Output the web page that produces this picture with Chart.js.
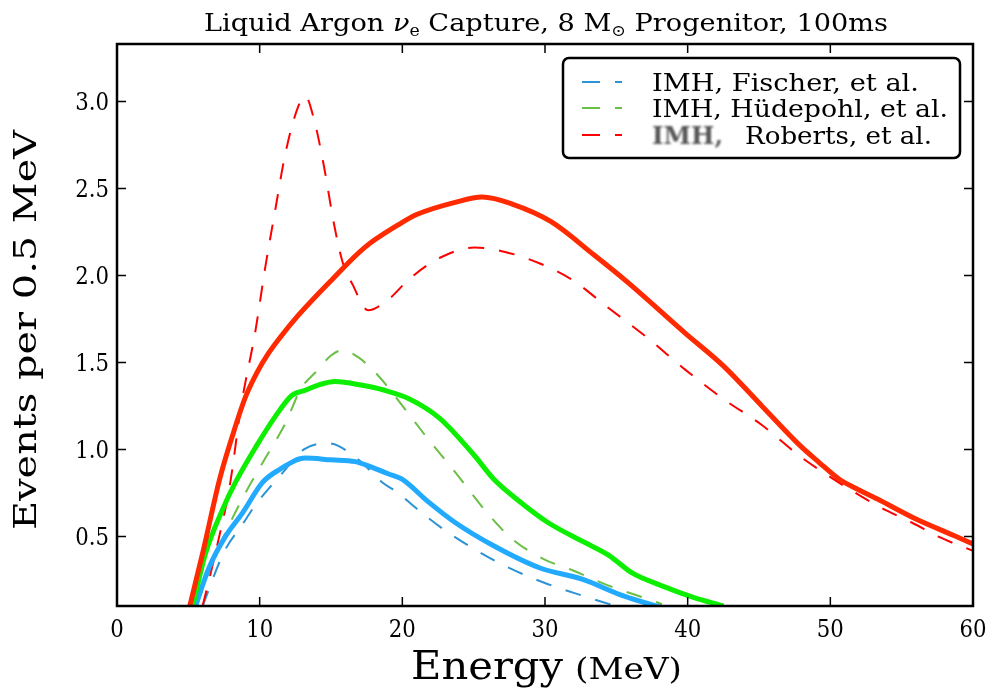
<!DOCTYPE html>
<html>
<head>
<meta charset="utf-8">
<script src="https://cdn.jsdelivr.net/npm/chart.js@4/dist/chart.umd.min.js"></script>
<style>
  body { margin: 0; background: #fff; }
  canvas { display: block; }
</style>
</head>
<body>
<canvas id="chart" width="994" height="689"></canvas>
<script>
// tick labels
const xTicks = [0, 10, 20, 30, 40, 50, 60];
const yTicks = [0.5, 1.0, 1.5, 2.0, 2.5, 3.0];

// solid curves (energy in MeV, events per 0.5 MeV)
const redSolidE = [5.1, 6.05, 7.2, 8.1, 9.0, 9.8, 10.6, 11.5, 12.7, 15.0, 17.35, 19.7, 21.0, 23.7, 25.6, 27.7, 30.4, 33.4, 35.8, 39.8, 42.5, 45.2, 47.9, 49.2, 50.6, 51.7, 53.3, 56.0, 58.7, 60.0];
const redSolidV = [0.10, 0.42, 0.83, 1.08, 1.30, 1.44, 1.55, 1.65, 1.77, 1.97, 2.16, 2.29, 2.35, 2.42, 2.45, 2.41, 2.31, 2.12, 1.96, 1.67, 1.48, 1.25, 1.02, 0.926, 0.83, 0.78, 0.715, 0.60, 0.504, 0.456];

const greenSolidE = [5.3, 6.2, 7.4, 8.3, 9.7, 11.1, 12.25, 13.2, 14.1, 15.3, 17.1, 18.75, 20.5, 22.6, 25.05, 26.4, 28.0, 30.2, 32.8, 34.5, 36.1, 38.2, 40.4, 42.5];
const greenSolidV = [0.10, 0.40, 0.655, 0.81, 1.01, 1.19, 1.31, 1.34, 1.37, 1.39, 1.37, 1.34, 1.29, 1.18, 0.965, 0.83, 0.715, 0.58, 0.465, 0.39, 0.29, 0.216, 0.15, 0.10];

const blueSolidE = [5.5, 6.45, 7.6, 8.8, 10.2, 11.3, 13.2, 15.0, 16.7, 17.8, 19.0, 19.95, 21.8, 23.7, 26.4, 29.6, 32.6, 35.5, 38.2];
const blueSolidV = [0.10, 0.32, 0.50, 0.635, 0.81, 0.88, 0.95, 0.94, 0.93, 0.90, 0.86, 0.83, 0.70, 0.58, 0.446, 0.32, 0.254, 0.158, 0.09];

// dashed curves (IMH)
const redDashE = [6.0, 7.0, 7.9, 8.7, 9.7, 10.4, 11.1, 11.8, 12.7, 13.2, 13.8, 14.5, 15.2, 15.8, 16.5, 17.6, 19.0, 20.5, 22.6, 25.05, 27.2, 29.6, 31.8, 34.5, 37.2, 39.8, 42.5, 45.2, 47.8, 49.5, 51.5, 53.5, 55.7, 57.7, 60.0];
const redDashV = [0.10, 0.44, 0.79, 1.25, 1.68, 2.05, 2.38, 2.70, 2.97, 3.03, 2.90, 2.63, 2.30, 2.08, 1.95, 1.80, 1.86, 1.98, 2.10, 2.16, 2.135, 2.07, 1.98, 1.81, 1.64, 1.46, 1.29, 1.14, 0.965, 0.868, 0.763, 0.667, 0.58, 0.494, 0.417];

const greenDashE = [5.6, 6.6, 7.8, 9.0, 10.4, 11.8, 12.9, 14.0, 15.0, 15.8, 16.9, 18.3, 20.2, 21.8, 23.7, 25.9, 27.7, 29.9, 31.8, 34.5, 37.2, 38.2];
const greenDashV = [0.10, 0.33, 0.555, 0.75, 0.95, 1.15, 1.35, 1.45, 1.54, 1.57, 1.53, 1.425, 1.23, 1.06, 0.87, 0.64, 0.485, 0.37, 0.31, 0.216, 0.14, 0.11];

const blueDashE = [6.0, 7.5, 8.8, 9.7, 11.55, 13.1, 14.8, 16.8, 18.6, 19.7, 21.0, 22.9, 25.05, 27.2, 29.9, 32.6, 35.0, 35.5];
const blueDashV = [0.10, 0.41, 0.57, 0.68, 0.86, 1.0, 1.035, 0.95, 0.81, 0.75, 0.66, 0.54, 0.427, 0.33, 0.235, 0.16, 0.10, 0.09];

const legendLabels = ['IMH, Fischer, et al.', 'IMH, H\u00fcdepohl, et al.', 'Roberts, et al.'];
const legendColors = ['#2b93d6', '#6abf45', '#ff0000'];

const pts = (e, v) => e.map((x, i) => ({ x: x, y: v[i] }));

const solid = (label, color, e, v) => ({
    label: label, data: pts(e, v), borderColor: color, borderWidth: 5,
    pointRadius: 0, fill: false, cubicInterpolationMode: 'monotone'
});
const dashed = (label, color, e, v) => ({
    label: label, data: pts(e, v), borderColor: color, borderWidth: 2,
    borderDash: [16, 15], borderCapStyle: 'butt',
    pointRadius: 0, fill: false, cubicInterpolationMode: 'monotone'
});

const SERIF = '"DejaVu Serif", serif';

// draw text squeezed/stretched to a given width
const fitText = (ctx, str, x, y, w, font) => {
    ctx.font = font;
    let m = ctx.measureText(str).width;
    ctx.save();
    ctx.translate(x, y);
    ctx.scale(w / m, 1);
    ctx.fillText(str, 0, 0);
    ctx.restore();
}

// draw text with a horizontal squeeze, aligned left/center/right at x
const narrowText = (ctx, str, x, y, font, sx, align) => {
    ctx.font = font;
    let w = ctx.measureText(str).width * sx;
    let x0 = align == 'center' ? x - w / 2 : (align == 'right' ? x - w : x);
    ctx.save();
    ctx.translate(x0, y);
    ctx.scale(sx, 1);
    ctx.fillText(str, 0, 0);
    ctx.restore();
}

const decorations = {
    id: 'decorations',
    afterDraw(chart) {
        let ctx = chart.ctx;
        let a = chart.chartArea;
        let xs = chart.scales.x, ys = chart.scales.y;
        ctx.save();
        ctx.setLineDash([]);
        ctx.fillStyle = '#000';
        ctx.strokeStyle = '#000';
        ctx.textBaseline = 'alphabetic';
        ctx.textAlign = 'left';

        // inner ticks on all four sides
        ctx.lineWidth = 1.5;
        ctx.beginPath();
        xTicks.forEach(v => {
            let px = xs.getPixelForValue(v);
            ctx.moveTo(px, a.bottom); ctx.lineTo(px, a.bottom - 9);
            ctx.moveTo(px, a.top); ctx.lineTo(px, a.top + 9);
        });
        yTicks.forEach(v => {
            let py = ys.getPixelForValue(v);
            ctx.moveTo(a.left, py); ctx.lineTo(a.left + 9, py);
            ctx.moveTo(a.right, py); ctx.lineTo(a.right - 9, py);
        });
        ctx.stroke();

        // frame
        ctx.lineWidth = 2.5;
        ctx.strokeRect(a.left, a.top, a.right - a.left, a.bottom - a.top);

        // tick labels
        xTicks.forEach(v => {
            narrowText(ctx, String(v), xs.getPixelForValue(v), a.bottom + 31, '25px ' + SERIF, 0.85, 'center');
        });
        yTicks.forEach(v => {
            narrowText(ctx, v.toFixed(1), a.left - 8, ys.getPixelForValue(v) + 9, '25px ' + SERIF, 0.85, 'right');
        });

        // title, built from pieces, then fitted to width
        let parts = [
            { t: 'Liquid Argon ', f: '25px ' + SERIF, dy: 0 },
            { t: '\u03bd', f: 'italic 25px ' + SERIF, dy: 0 },
            { t: 'e', f: '16px ' + SERIF, dy: 5 },
            { t: ' Capture, 8 M', f: '25px ' + SERIF, dy: 0 },
            { t: '\u2299', f: '16px ' + SERIF, dy: 5 },
            { t: ' Progenitor, 100ms', f: '25px ' + SERIF, dy: 0 }
        ];
        let total = 0;
        parts.forEach(p => { ctx.font = p.f; p.w = ctx.measureText(p.t).width; total += p.w; });
        ctx.save();
        ctx.translate(204, 31);
        ctx.scale(684 / total, 1);
        let cx = 0;
        parts.forEach(p => { ctx.font = p.f; ctx.fillText(p.t, cx, p.dy); cx += p.w; });
        ctx.restore();

        // x axis title
        fitText(ctx, 'Energy', 411, 679, 152, '40px ' + SERIF);
        fitText(ctx, '(MeV)', 575, 679, 107, '30px ' + SERIF);

        // y axis title
        ctx.save();
        ctx.translate(36, 530);
        ctx.rotate(-Math.PI / 2);
        fitText(ctx, 'Events per 0.5 MeV', 0, 0, 400, '31px ' + SERIF);
        ctx.restore();

        // legend box
        let bx = 563, by = 58, bw = 397, bh = 100;
        ctx.fillStyle = '#fff';
        ctx.lineWidth = 2.5;
        ctx.beginPath();
        ctx.roundRect(bx, by, bw, bh, 6);
        ctx.fill();
        ctx.stroke();
        let rows = [82, 108, 135];
        legendLabels.forEach((lab, i) => {
            let yy = rows[i];
            ctx.strokeStyle = legendColors[i];
            ctx.lineWidth = 2;
            ctx.beginPath();
            ctx.moveTo(582, yy); ctx.lineTo(600, yy);
            ctx.moveTo(615, yy); ctx.lineTo(622, yy);
            ctx.stroke();
            ctx.fillStyle = '#000';
            if (i < 2) {
                fitText(ctx, lab, 652, yy + 9, i == 0 ? 267 : 296, '24px ' + SERIF);
            } else {
                ctx.save();
                ctx.filter = 'blur(1.3px)';
                ctx.fillStyle = '#555';
                fitText(ctx, 'IMH,', 652, yy + 9, 71, 'bold 24px ' + SERIF);
                ctx.restore();
                fitText(ctx, lab, 745, yy + 9, 187, '24px ' + SERIF);
            }
        });
        ctx.restore();
    }
};

new Chart(document.getElementById('chart'), {
    type: 'line',
    data: {
        datasets: [
            solid('red', '#ff2a00', redSolidE, redSolidV),
            solid('green', '#0def00', greenSolidE, greenSolidV),
            solid('blue', '#22aaff', blueSolidE, blueSolidV),
            dashed(legendLabels[2], legendColors[2], redDashE, redDashV),
            dashed(legendLabels[1], legendColors[1], greenDashE, greenDashV),
            dashed(legendLabels[0], legendColors[0], blueDashE, blueDashV)
        ]
    },
    options: {
        responsive: false,
        animation: false,
        devicePixelRatio: 1,
        layout: { padding: { left: 0, right: 21, top: 44, bottom: 0 } },
        plugins: { legend: { display: false }, title: { display: false }, tooltip: { enabled: false } },
        scales: {
            x: {
                type: 'linear', min: 0, max: 60,
                afterBuildTicks: s => { s.ticks = xTicks.map(v => ({ value: v })); },
                afterFit: s => { s.height = 83; },
                grid: { display: false, drawTicks: false },
                border: { display: false },
                ticks: { display: false }
            },
            y: {
                type: 'linear', min: 0.1, max: 3.33,
                afterBuildTicks: s => { s.ticks = yTicks.map(v => ({ value: v })); },
                afterFit: s => { s.width = 117; },
                grid: { display: false, drawTicks: false },
                border: { display: false },
                ticks: { display: false }
            }
        }
    },
    plugins: [decorations]
});
</script>
</body>
</html>
